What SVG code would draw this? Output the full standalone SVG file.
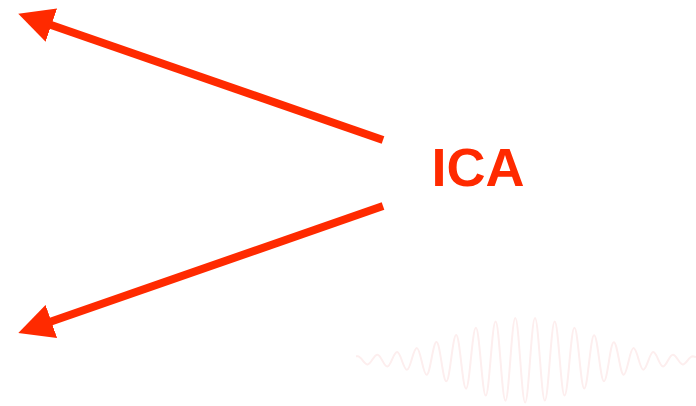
<svg xmlns="http://www.w3.org/2000/svg" width="696" height="406" viewBox="0 0 696 406">
<style>
.arrow{stroke:#ff2a00;stroke-width:8;fill:none;marker-end:url(#head)}
.label{font-family:"Liberation Sans",Arial,sans-serif;font-weight:bold;font-size:54px;fill:#ff2a00}
.wave{stroke:#fdeeee;stroke-width:2;fill:none}
</style>
<defs>
<marker id="head" markerUnits="userSpaceOnUse" markerWidth="35" markerHeight="35" viewBox="0 0 35 35" refX="1" refY="17.5" orient="auto">
<path d="M0,0 L35,17.5 L0,35 z" fill="#ff2a00"/>
</marker>
</defs>
<rect width="696" height="406" fill="#ffffff"/>
<g id="wave">
<path class="wave" d="M356,356.2 L357.7,356.2 C361.3,356.2 364,364.4 367.55,364.4 S373.8,354.7 377.4,354.7 S383.7,366.5 387.25,366.5 S393.5,352.1 397.1,352.1 S403.4,369.8 406.95,369.8 S413.2,347.9 416.8,347.9 S423.1,374.8 426.65,374.8 S432.9,342.1 436.5,342.1 S442.8,381.3 446.35,381.3 S452.6,335.1 456.2,335.1 S462.5,388.7 466.05,388.7 S472.3,327.7 475.9,327.7 S482.2,395.6 485.75,395.6 S492,321.5 495.6,321.5 S501.9,400.7 505.45,400.7 S511.7,318 515.3,318 S521.6,402.5 525.15,402.5 S531.4,318 535,318 S541.3,400.6 544.85,400.6 S551.1,321.6 554.7,321.6 S561,395.5 564.55,395.5 S570.8,327.8 574.4,327.8 S580.7,388.5 584.25,388.5 S590.5,335.2 594.1,335.2 S600.4,381.2 603.95,381.2 S610.2,342.2 613.8,342.2 S620.1,374.7 623.65,374.7 S629.9,348 633.5,348 S639.8,369.7 643.35,369.7 S649.6,352.1 653.2,352.1 S659.5,366.4 663.05,366.4 S669.3,354.7 672.9,354.7 S679.2,364.4 682.75,364.4 S689,356.2 692.6,356.2 L696,357"/>
</g>
<g id="connectors">
<path class="arrow" d="M383,140 L50.4,24.8"/>
<path class="arrow" d="M383,206 L50.4,321.8"/>
</g>
<g id="ica">
<text class="label" x="431.5" y="186">ICA</text>
</g>
</svg>
